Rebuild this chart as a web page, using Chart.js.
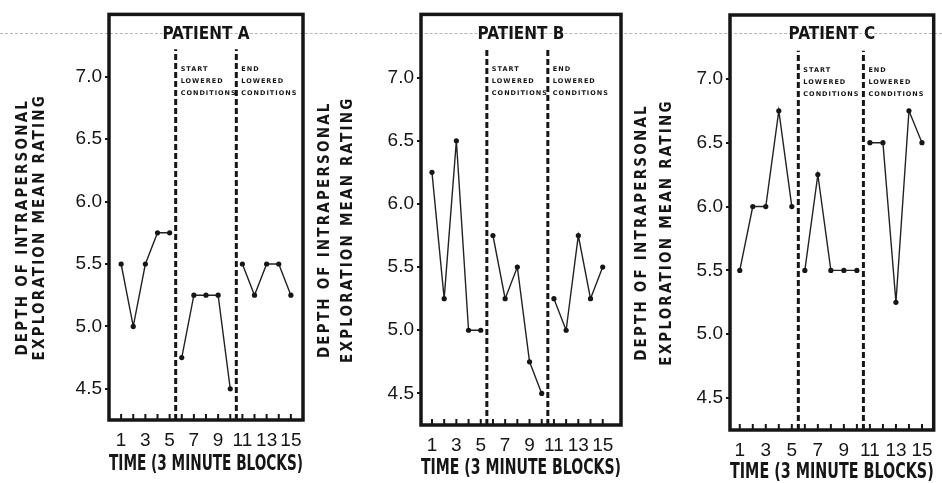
<!DOCTYPE html>
<html><head><meta charset="utf-8">
<script src="https://cdn.jsdelivr.net/npm/chart.js@4.4.1/dist/chart.umd.min.js"></script>
<style>
html,body{margin:0;padding:0;background:#fff;}
#wrap{position:relative;width:942px;height:483px;overflow:hidden;background:#fff;}
#wrap canvas{position:absolute;top:0;}
#edge{position:absolute;left:0;top:33px;width:942px;height:0;border-top:1px dashed #b5b5b5;}
</style></head><body>
<div id="wrap"><div id="edge"></div>
<canvas id="cA" width="312" height="483" style="left:0px"></canvas>
<canvas id="cB" width="316" height="483" style="left:312px"></canvas>
<canvas id="cC" width="314" height="483" style="left:628px"></canvas>
</div>
<script>
// ---- data ----
const blocks = [1,2,3,4,5,6,7,8,9,10,11,12,13,14,15];
const labelledBlocks = [1,3,5,7,9,11,13,15];
const ratingTicks = [4.5,5.0,5.5,6.0,6.5,7.0];
const ratingMin = 4.25;
const ratingMax = 7.5;
const patientNames = ['PATIENT A','PATIENT B','PATIENT C'];
const patientA = [5.5,5.0,5.5,5.75,5.75, 4.75,5.25,5.25,5.25,4.5, 5.5,5.25,5.5,5.5,5.25];
const patientB = [6.25,5.25,6.5,5.0,5.0, 5.75,5.25,5.5,4.75,4.5, 5.25,5.0,5.75,5.25,5.5];
const patientC = [5.5,6.0,6.0,6.75,6.0, 5.5,6.25,5.5,5.5,5.5, 6.5,6.5,5.25,6.75,6.5];
const phaseBoundaries = [5.5, 10.5];
const boundaryTop = 7.22;
const phaseNotes = [['START','LOWERED','CONDITIONS'],['END','LOWERED','CONDITIONS']];
const yTitle = ['DEPTH OF INTRAPERSONAL','EXPLORATION MEAN RATING'];
const xTitle = 'TIME (3 MINUTE BLOCKS)';

// ---- layout / style ----
const ink = '#161616';
const NARROW = '"Liberation Sans Narrow","DejaVu Sans Condensed","Liberation Sans",Arial,sans-serif';
const SANS = '"Liberation Sans",Arial,sans-serif';
const panelLayout = [
  {id:'cA', axisWidth:109, axisHeight:63, padTop:10, padRight:9, xMin:0,    xMax:16,   titleBottom:8, yTitleOffsets:[86,69]},
  {id:'cB', axisWidth:109, axisHeight:58, padTop:14, padRight:7, xMin:0.1,  xMax:16.5, titleBottom:4, yTitleOffsets:[96,73]},
  {id:'cC', axisWidth:102, axisHeight:53, padTop:15, padRight:8, xMin:0.25, xMax:15.9, titleBottom:0, yTitleOffsets:[88,63]}
];

const panelDecor = {
  id:'panelDecor',
  afterDraw(chart, args, opts){
    const ctx = chart.ctx, a = chart.chartArea, xs = chart.scales.x;
    ctx.save();
    // frame
    ctx.strokeStyle = ink; ctx.lineWidth = 3.5;
    ctx.strokeRect(a.left, a.top, a.right - a.left, a.bottom - a.top);
    // inner bottom ticks
    ctx.lineWidth = 2;
    xs.ticks.forEach(t => {
      const px = xs.getPixelForValue(t.value);
      ctx.beginPath(); ctx.moveTo(px, a.bottom); ctx.lineTo(px, a.bottom - 6); ctx.stroke();
    });
    // panel title
    ctx.fillStyle = ink;
    ctx.font = 'bold 17px ' + NARROW;
    ctx.letterSpacing = '0px';
    ctx.textAlign = 'center'; ctx.textBaseline = 'middle';
    ctx.fillText(opts.name, (a.left + a.right) / 2, a.top + 20);
    // phase notes
    ctx.font = 'bold 6.5px "DejaVu Sans",sans-serif';
    ctx.letterSpacing = '1px';
    ctx.textAlign = 'left';
    phaseBoundaries.forEach((b, i) => {
      const px = xs.getPixelForValue(b);
      phaseNotes[i].forEach((w, j) => ctx.fillText(w, px + 5, a.top + 55 + j * 12));
    });
    // y title
    ctx.font = 'bold 15px ' + NARROW;
    ctx.letterSpacing = '2.2px';
    ctx.textAlign = 'center';
    const cy = (a.top + a.bottom) / 2 + 10;
    yTitle.forEach((t, i) => {
      ctx.save();
      ctx.translate(a.left - opts.offsets[i], cy);
      ctx.rotate(-Math.PI / 2);
      ctx.fillText(t, 0, 0);
      ctx.restore();
    });
    ctx.letterSpacing = '0px';
    ctx.restore();
  }
};

function crossesBoundary(x0, x1){
  return phaseBoundaries.some(b => b > Math.min(x0, x1) && b < Math.max(x0, x1));
}

function makePanel(layout, name, series){
  const points = blocks.map((b, i) => ({x:b, y:series[i]}));
  const boundarySets = phaseBoundaries.map(b => ({
    data:[{x:b, y:ratingMin}, {x:b, y:boundaryTop}],
    borderColor:ink, borderWidth:3, borderDash:[6,3], pointRadius:0, fill:false
  }));
  new Chart(document.getElementById(layout.id), {
    type:'line',
    data:{datasets:[{
      data:points, borderColor:'#222', borderWidth:1.4,
      pointRadius:2.6, pointBackgroundColor:ink, pointBorderWidth:0, fill:false,
      segment:{borderColor: c => crossesBoundary(c.p0.parsed.x, c.p1.parsed.x) ? 'rgba(0,0,0,0)' : undefined}
    }, ...boundarySets]},
    options:{
      responsive:false, animation:false, devicePixelRatio:1,
      layout:{padding:{top:layout.padTop, right:layout.padRight, left:0, bottom:0}},
      plugins:{legend:{display:false}, tooltip:{enabled:false},
        panelDecor:{name:name, offsets:layout.yTitleOffsets}},
      scales:{
        x:{type:'linear', min:layout.xMin, max:layout.xMax,
          afterBuildTicks: s => { s.ticks = blocks.map(v => ({value:v})); },
          afterFit: s => { s.height = layout.axisHeight; },
          grid:{display:false, drawTicks:false}, border:{display:false},
          ticks:{autoSkip:false, maxRotation:0, padding:9, color:ink,
            font:{family:SANS, size:19},
            callback: v => labelledBlocks.includes(v) ? String(v) : ''},
          title:{display:true, text:xTitle, color:ink,
            font:{family:NARROW, size:22, weight:'bold', lineHeight:1},
            padding:{top:0, bottom:layout.titleBottom}}
        },
        y:{type:'linear', min:ratingMin, max:ratingMax,
          afterBuildTicks: s => { s.ticks = ratingTicks.map(v => ({value:v})); },
          afterFit: s => { s.width = layout.axisWidth; },
          grid:{drawOnChartArea:false, drawTicks:true, tickLength:4, color:ink, lineWidth:2},
          border:{display:false},
          ticks:{padding:3, color:ink, font:{family:SANS, size:19},
            callback: v => Number(v).toFixed(1)}
        }
      }
    },
    plugins:[panelDecor]
  });
}

makePanel(panelLayout[0], patientNames[0], patientA);
makePanel(panelLayout[1], patientNames[1], patientB);
makePanel(panelLayout[2], patientNames[2], patientC);
</script>
</body></html>
